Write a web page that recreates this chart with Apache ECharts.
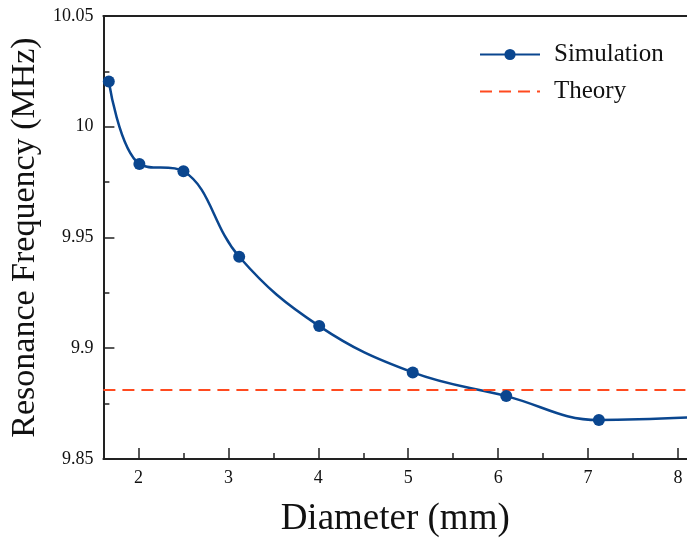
<!DOCTYPE html>
<html>
<head>
<meta charset="utf-8">
<script src="https://cdn.jsdelivr.net/npm/echarts@6/dist/echarts.min.js"></script>
<style>html,body{margin:0;padding:0;background:#fff}#c{width:687px;height:543px}</style>
</head>
<body>
<div id="c"></div>
<script>
const diameter = [1.67, 2.01, 2.50, 3.12, 4.01, 5.05, 6.09, 7.12, 8.16];
const simFreq = [10.0204, 9.9832, 9.9799, 9.9413, 9.9100, 9.8891, 9.8784, 9.8676, 9.8688];
const theoryX = [1.61, 8.1];
const theoryFreq = [9.8811, 9.8811];
const xMajorTicks = [2, 3, 4, 5, 6, 7, 8];
const xMinorTicks = [2.5, 3.5, 4.5, 5.5, 6.5, 7.5];

const FONT = '"Liberation Serif", "Times New Roman", serif';
const chart = echarts.init(document.getElementById('c'));
const axisColor = '#222';
chart.setOption({
  animation: false,
  backgroundColor: '#fff',
  grid: { left: 103, top: 16, right: 0, bottom: 83 },
  legend: {
    orient: 'vertical', left: 474, top: 37, itemWidth: 60, itemHeight: 14, itemGap: 12,
    textStyle: { fontFamily: FONT, fontSize: 25, color: '#111', lineHeight: 25, padding: [0, 0, 0, 9] },
    data: ['Simulation', { name: 'Theory', itemStyle: { opacity: 0 } }]
  },
  xAxis: [{
    type: 'value', min: 1.61, max: 8.1,
    name: 'Diameter (mm)', nameLocation: 'middle', nameGap: 42,
    nameTextStyle: { fontFamily: FONT, fontSize: 37, color: '#111' },
    axisLine: { show: true, lineStyle: { color: axisColor, width: 2 } },
    axisTick: { show: true, inside: true, length: 11, customValues: xMajorTicks, lineStyle: { color: axisColor, width: 1.5 } },
    axisLabel: { customValues: xMajorTicks, fontFamily: FONT, fontSize: 18, color: '#111', margin: 10 },
    splitLine: { show: false }
  }, {
    type: 'value', min: 1.61, max: 8.1, position: 'bottom',
    axisLine: { show: false },
    axisTick: { show: true, inside: true, length: 6, customValues: xMinorTicks, lineStyle: { color: axisColor, width: 1.5 } },
    axisLabel: { show: false },
    splitLine: { show: false }
  }, {
    type: 'value', min: 1.61, max: 8.1, position: 'top',
    axisLine: { show: true, lineStyle: { color: axisColor, width: 2 } },
    axisTick: { show: false }, axisLabel: { show: false }, splitLine: { show: false }
  }],
  yAxis: {
    type: 'value', min: 9.85, max: 10.05, interval: 0.05,
    name: 'Resonance Frequency (MHz)', nameLocation: 'middle', nameGap: 56,
    nameTextStyle: { fontFamily: FONT, fontSize: 34, color: '#111' },
    axisLine: { show: true, lineStyle: { color: axisColor, width: 2 } },
    axisTick: { show: true, inside: true, length: 11, lineStyle: { color: axisColor, width: 1.5 } },
    minorTick: { show: true, splitNumber: 2, length: 6, lineStyle: { color: axisColor, width: 1.5 } },
    axisLabel: { fontFamily: FONT, fontSize: 18, color: '#111', margin: 10 },
    splitLine: { show: false }
  },
  series: [{
    name: 'Simulation', type: 'line', xAxisIndex: 0,
    data: diameter.map((d, i) => [d, simFreq[i]]),
    smooth: 0.4, symbol: 'circle', symbolSize: 12,
    itemStyle: { color: '#0a468f' },
    lineStyle: { color: '#0a468f', width: 2.5 }
  }, {
    name: 'Theory', type: 'line', xAxisIndex: 0,
    data: theoryX.map((d, i) => [d, theoryFreq[i]]),
    symbol: 'none',
    itemStyle: { color: '#ff4a1f' },
    lineStyle: { color: '#ff4a1f', width: 2, type: [12, 7] }
  }]
});
</script>
</body>
</html>
